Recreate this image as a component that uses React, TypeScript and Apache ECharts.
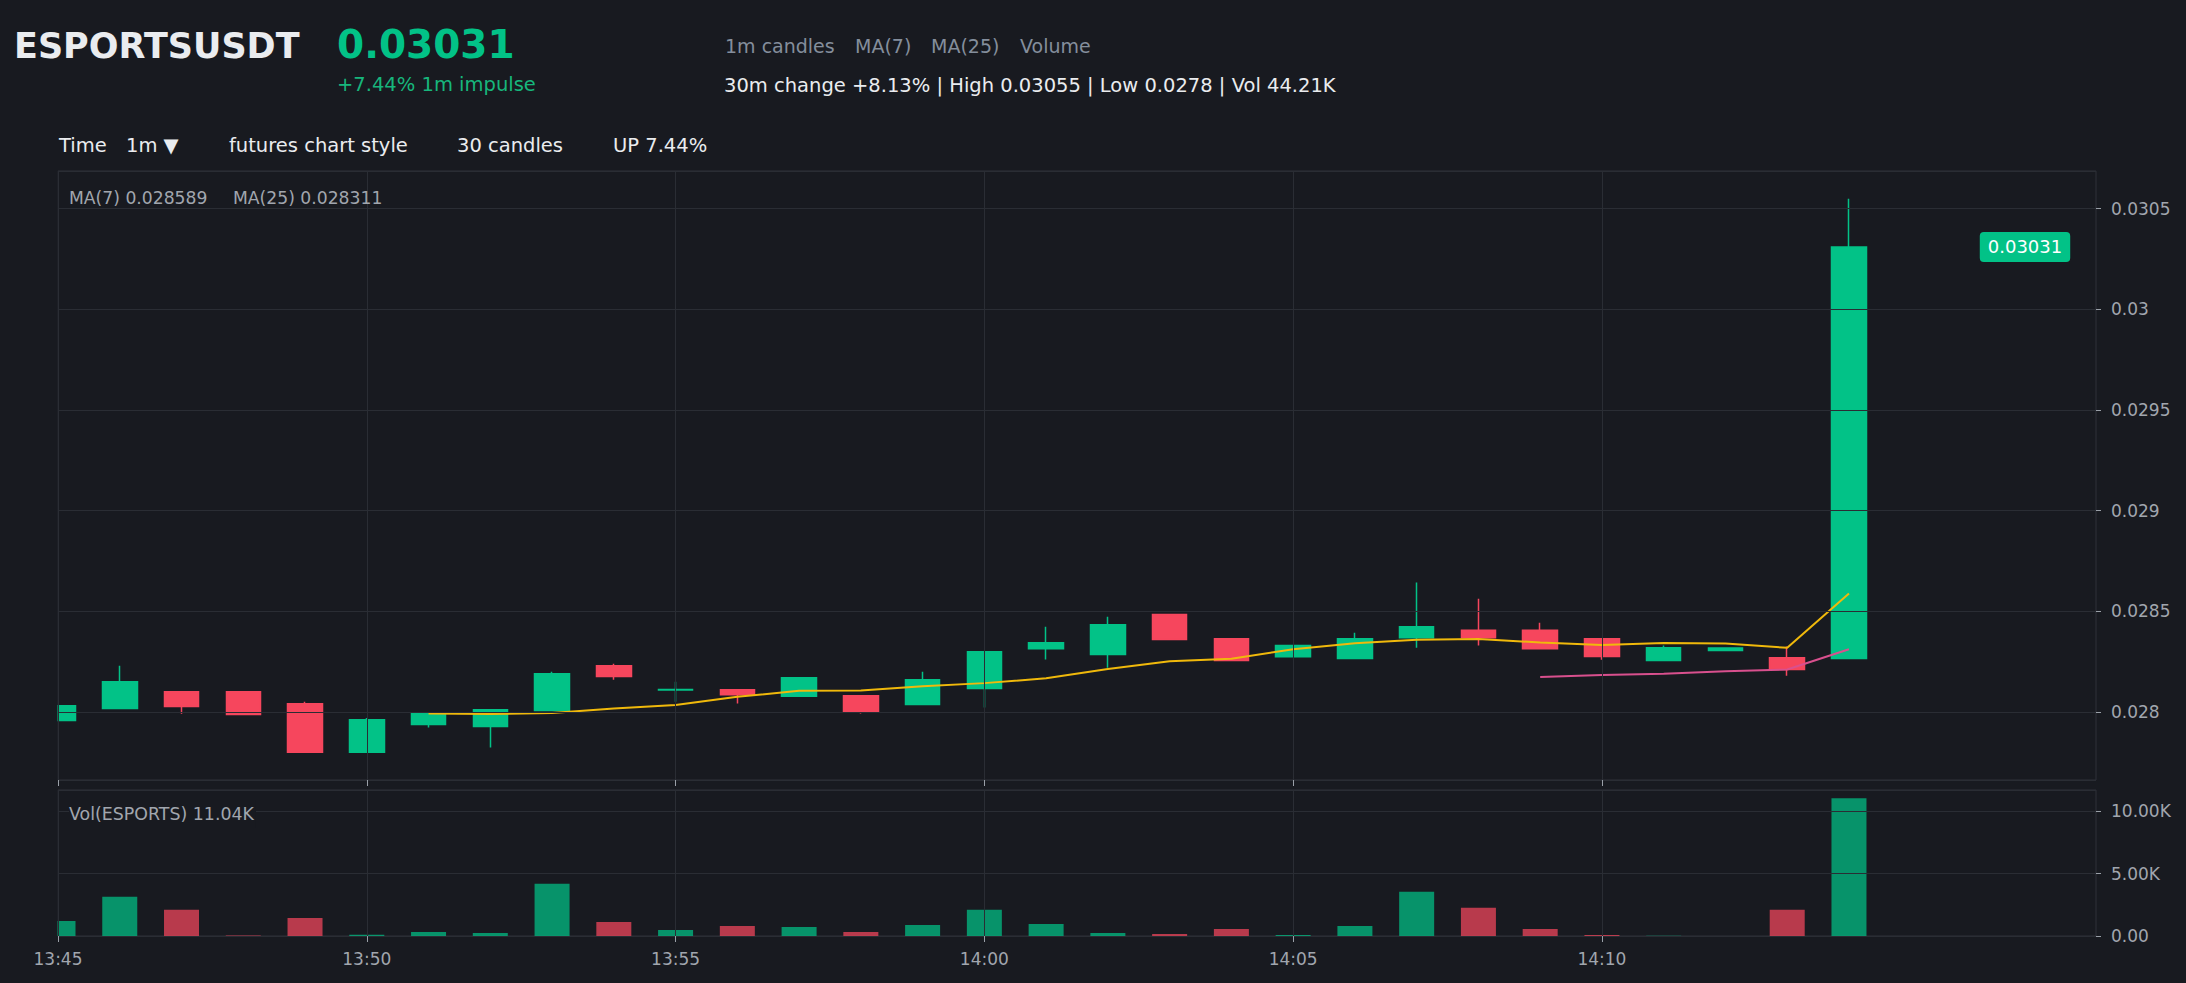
import React, { useEffect, useRef } from 'react';
import * as echarts from 'echarts';

// ---- data ----
const categories = [
  '13:45', '13:46', '13:47', '13:48', '13:49', '13:50', '13:51', '13:52', '13:53', '13:54',
  '13:55', '13:56', '13:57', '13:58', '13:59', '14:00', '14:01', '14:02', '14:03', '14:04',
  '14:05', '14:06', '14:07', '14:08', '14:09', '14:10', '14:11', '14:12', '14:13', '14:14',
  '14:15', '14:16', '14:17', '14:18',
];
const xTickLabels = ['13:45', '13:50', '13:55', '14:00', '14:05', '14:10'];

const opens = [
  0.027958, 0.028018, 0.028101, 0.028101, 0.028041, 0.0278, 0.027938, 0.027928, 0.028008, 0.02823,
  0.02811, 0.028111, 0.028078, 0.028081, 0.028038, 0.028117, 0.028315, 0.028286, 0.028484, 0.028364,
  0.028275, 0.028266, 0.028369, 0.028406, 0.028406, 0.028364, 0.028256, 0.028306, 0.02827, 0.028266,
];
const highs = [
  0.028031, 0.02823, 0.028101, 0.028101, 0.028051, 0.02797, 0.027992, 0.028011, 0.0282, 0.02824,
  0.02815, 0.028111, 0.02817, 0.028081, 0.0282, 0.0283, 0.028424, 0.028474, 0.028484, 0.028364,
  0.02833, 0.028394, 0.028643, 0.028563, 0.028444, 0.028364, 0.02833, 0.028318, 0.028326, 0.03055,
];
const lows = [
  0.027958, 0.028018, 0.027992, 0.027985, 0.0278, 0.0278, 0.027923, 0.027824, 0.028008, 0.02816,
  0.028051, 0.028043, 0.028078, 0.027993, 0.028038, 0.028023, 0.028261, 0.02822, 0.028361, 0.028256,
  0.028275, 0.028266, 0.02832, 0.02833, 0.028315, 0.02826, 0.028256, 0.028306, 0.02818, 0.028266,
];
const closes = [
  0.028031, 0.028151, 0.028028, 0.027988, 0.0278, 0.027962, 0.027992, 0.028011, 0.02819, 0.028177,
  0.028112, 0.028086, 0.02817, 0.028001, 0.02816, 0.0283, 0.028344, 0.028434, 0.028361, 0.028256,
  0.02833, 0.028364, 0.028424, 0.028369, 0.028315, 0.028276, 0.02832, 0.028318, 0.028211, 0.03031,
];
const volumes = [
  1210, 3145, 2097, 40, 1452, 105, 323, 242, 4194, 1129,
  484, 807, 726, 323, 887, 2097, 968, 242, 161, 565,
  80, 807, 3549, 2258, 565, 80, 20, 5, 2097, 11040,
];
const ma7 = [
  null, null, null, null, null, null, 0.0279931, 0.0279903, 0.0279959, 0.0280171,
  0.0280349, 0.0280757, 0.0281054, 0.0281067, 0.028128, 0.0281437, 0.0281676, 0.0282136, 0.0282529, 0.0282651,
  0.0283121, 0.0283413, 0.028359, 0.0283626, 0.0283456, 0.0283334, 0.0283426, 0.0283409, 0.028319, 0.0285884,
];
const ma25 = [
  null, null, null, null, null, null, null, null, null, null,
  null, null, null, null, null, null, null, null, null, null,
  null, null, null, null, 0.0281742, 0.028184, 0.0281908, 0.0282024, 0.0282113, 0.0283117,
];

// ---- style ----
const BG = '#181a20';
const UP = '#02c287';
const DOWN = '#f6465d';
const UP_VOL = 'rgba(2,194,135,0.72)';
const DOWN_VOL = 'rgba(246,70,93,0.72)';
const GRIDLINE = '#2a2d34';
const BORDER = '#2e3138';
const LABEL = '#a1a6ae';
const TICK = '#9aa0a8';
const FONT = 'DejaVu Sans';

const GRID_LEFT = 58;

const showTick = (idx: number) => xTickLabels.includes(categories[idx]);

export default function App() {
  const ref = useRef<HTMLDivElement>(null);
  useEffect(() => {
    document.body.style.margin = '0';
    document.body.style.background = BG;
    const chart = echarts.init(ref.current as HTMLDivElement, null, { renderer: 'svg' });

    const lowAll = Math.min(...lows);
    const highAll = Math.max(...highs);
    const pad = (highAll - lowAll) * 0.05;
    const candleData = opens.map((o, i) => [o, closes[i], lows[i], highs[i]]);
    const volData = volumes.map((v, i) => ({
      value: v,
      itemStyle: { color: closes[i] >= opens[i] ? UP_VOL : DOWN_VOL },
    }));
    const volMax = Math.max(...volumes) * 1.06;

    const xCommon = {
      type: 'category' as const,
      data: categories,
      boundaryGap: false,
      z: 10,
      axisLine: { show: false },
      axisTick: { show: true, interval: showTick, length: 6, lineStyle: { color: TICK } },
      splitLine: { show: true, interval: showTick, lineStyle: { color: GRIDLINE, width: 1 } },
    };

    chart.setOption({
      animation: false,
      backgroundColor: BG,
      textStyle: { fontFamily: FONT },
      grid: [
        { left: GRID_LEFT, width: 2038, top: 171, height: 609, show: true, borderColor: BORDER, borderWidth: 1 },
        { left: GRID_LEFT, width: 2038, top: 790, height: 146, show: true, borderColor: BORDER, borderWidth: 1 },
      ],
      xAxis: [
        { ...xCommon, gridIndex: 0, axisLabel: { show: false } },
        {
          ...xCommon,
          gridIndex: 1,
          axisLabel: { show: true, interval: showTick, color: LABEL, fontSize: 17, margin: 14, fontFamily: FONT },
        },
      ],
      yAxis: [
        {
          type: 'value',
          gridIndex: 0,
          position: 'right',
          min: lowAll - pad,
          max: highAll + pad,
          splitNumber: 5,
          z: 10,
          axisLine: { show: false },
          axisTick: { show: true, length: 5, lineStyle: { color: TICK } },
          axisLabel: {
            color: LABEL, fontSize: 17, margin: 15, fontFamily: FONT,
            showMinLabel: false, showMaxLabel: false,
          },
          splitLine: { show: true, lineStyle: { color: GRIDLINE, width: 1 } },
        },
        {
          type: 'value',
          gridIndex: 1,
          position: 'right',
          min: 0,
          max: volMax,
          interval: 5000,
          z: 10,
          axisLine: { show: false },
          axisTick: { show: true, length: 5, lineStyle: { color: TICK } },
          axisLabel: {
            color: LABEL, fontSize: 17, margin: 15, fontFamily: FONT,
            showMaxLabel: false,
            padding: [13, 0, 0, 0],
            formatter: (v: number) => (v === 0 ? '0.00' : (v / 1000).toFixed(2) + 'K'),
          },
          splitLine: { show: true, lineStyle: { color: GRIDLINE, width: 1 } },
        },
      ],
      series: [
        {
          type: 'candlestick',
          xAxisIndex: 0,
          yAxisIndex: 0,
          data: candleData,
          barWidth: 35,
          clip: true,
          itemStyle: { color: UP, color0: DOWN, borderColor: UP, borderColor0: DOWN, borderWidth: 1.5 },
        },
        {
          type: 'line',
          name: 'MA(7)',
          xAxisIndex: 0,
          yAxisIndex: 0,
          data: ma7.map((v) => (v === null ? '-' : v)),
          symbol: 'none',
          lineStyle: { color: '#f0b90b', width: 2 },
          z: 4,
        },
        {
          type: 'line',
          name: 'MA(25)',
          xAxisIndex: 0,
          yAxisIndex: 0,
          data: ma25.map((v) => (v === null ? '-' : v)),
          symbol: 'none',
          lineStyle: { color: '#d9508e', width: 2 },
          z: 4,
        },
        {
          type: 'bar',
          xAxisIndex: 1,
          yAxisIndex: 1,
          data: volData,
          barWidth: 35,
        },
      ],
    });

    const lastClose = closes[closes.length - 1];
    const tagY = chart.convertToPixel({ yAxisIndex: 0 }, lastClose) as number;

    const t = (id: string, x: number, y: number, text: string, fontSize: number, fill: string, extra: any = {}) => ({
      type: 'text',
      id,
      x,
      y,
      z: 100,
      style: {
        text,
        fill,
        fontSize,
        fontFamily: FONT,
        align: 'left',
        verticalAlign: 'middle',
        textAlign: 'left',
        textVerticalAlign: 'middle',
        ...extra,
      },
    });

    chart.setOption({
      graphic: [
        // mask: the half-candle / half-bar at the first minute is cut at the plot's left edge
        {
          type: 'rect',
          id: 'leftMask',
          z: 5,
          shape: { x: 0, y: 165, width: GRID_LEFT - 0.5, height: 772 },
          style: { fill: BG },
        },
        t('title', 14, 46, 'ESPORTSUSDT', 35, '#eaecef', { fontWeight: 'bold' }),
        t('price', 337, 44, '0.03031', 39, UP, { fontWeight: 'bold' }),
        t('impulse', 337, 84, '+7.44% 1m impulse', 19.5, '#17b67c'),
        t('h1', 725, 46, '1m candles', 19, '#848e9c'),
        t('h2', 855, 46, 'MA(7)', 19, '#848e9c'),
        t('h3', 931, 46, 'MA(25)', 19, '#848e9c'),
        t('h4', 1020, 46, 'Volume', 19, '#848e9c'),
        t('stats', 724, 85, '30m change +8.13% | High 0.03055 | Low 0.0278 | Vol 44.21K', 19.5, '#eaecef'),
        t('tb1', 59, 145, 'Time', 19.5, '#eaecef'),
        t('tb2', 126, 145, '1m ▼', 19.5, '#eaecef'),
        t('tb3', 229, 145, 'futures chart style', 19.5, '#eaecef'),
        t('tb4', 457, 145, '30 candles', 19.5, '#eaecef'),
        t('tb5', 613, 145, 'UP 7.44%', 19.5, '#eaecef'),
        t('ma7lbl', 69, 198, 'MA(7) 0.028589', 17.2, LABEL),
        t('ma25lbl', 233, 198, 'MA(25) 0.028311', 17.2, LABEL),
        t('vollbl', 69, 814, 'Vol(ESPORTS) 11.04K', 17.4, LABEL, {
          backgroundColor: BG,
          padding: [5, 2, 5, 0],
        }),
        t('tag', 2025, tagY, '0.03031', 18, '#ffffff', {
          align: 'center',
          textAlign: 'center',
          backgroundColor: UP,
          padding: [5, 8, 4, 8],
          borderRadius: 4,
          lineHeight: 21,
        }),
      ],
    });

    return () => chart.dispose();
  }, []);

  return (
    <div
      ref={ref}
      style={{ position: 'absolute', left: 0, top: 0, width: 2186, height: 983 }}
    />
  );
}
